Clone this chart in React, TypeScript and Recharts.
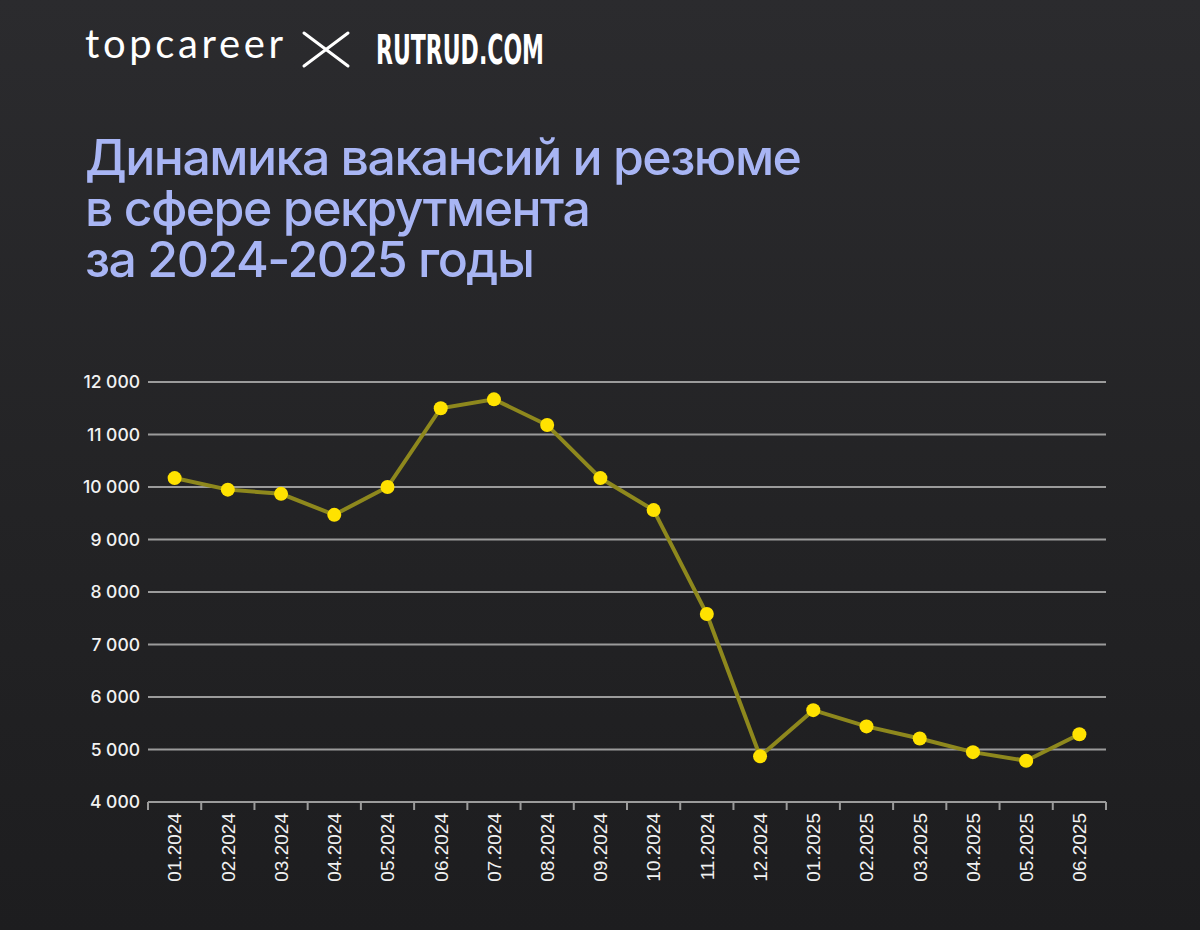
import { LineChart, Line, XAxis, YAxis, CartesianGrid } from 'recharts'

const months = [
  '01.2024', '02.2024', '03.2024', '04.2024', '05.2024', '06.2024',
  '07.2024', '08.2024', '09.2024', '10.2024', '11.2024', '12.2024',
  '01.2025', '02.2025', '03.2025', '04.2025', '05.2025', '06.2025',
]
const vacancies = [
  10170, 9950, 9870, 9470, 10000, 11500,
  11670, 11180, 10170, 9560, 7580, 4870,
  5750, 5440, 5210, 4950, 4785, 5290,
]
const yTicks = [4000, 5000, 6000, 7000, 8000, 9000, 10000, 11000, 12000]
const titleLines = ['Динамика вакансий и резюме', 'в сфере рекрутмента', 'за 2024-2025 годы']

const data = months.map((month, i) => ({ month, value: vacancies[i] }))

const CHART_W = 1200
const CHART_H = 540
const Y_AXIS_W = 148
const RIGHT_PAD = 94
const BAND = (CHART_W - Y_AXIS_W - RIGHT_PAD) / months.length
const GRID = '#9b9b9b'

const fmt = (v: number) => String(v).replace(/\B(?=(\d{3})+(?!\d))/g, ' ')

function MonthTick(props: any) {
  const { x, y, payload, index } = props
  const half = BAND / 2
  const ty = y + 3
  return (
    <g>
      <line x1={x - half} x2={x - half} y1={y - 8} y2={y} stroke={GRID} strokeWidth={2} />
      {index === months.length - 1 && (
        <line x1={x + half} x2={x + half} y1={y - 8} y2={y} stroke={GRID} strokeWidth={2} />
      )}
      <text
        x={x}
        y={ty}
        transform={`rotate(-90, ${x}, ${ty})`}
        textAnchor="end"
        dy="0.36em"
        fill="#f2f2f2"
        fontSize={19}
        fontFamily="'Liberation Sans', Arial, sans-serif"
      >
        {payload.value}
      </text>
    </g>
  )
}

export default function App() {
  return (
    <div
      style={{
        position: 'absolute',
        left: 0,
        top: 0,
        width: 1200,
        height: 930,
        overflow: 'hidden',
        background: 'linear-gradient(180deg, #2b2b2e 0%, #232325 55%, #1d1d1f 100%)',
      }}
    >
      <svg width={1200} height={330} style={{ position: 'absolute', left: 0, top: 0 }}>
        <text
          x={85}
          y={58}
          fill="#ffffff"
          fontSize={40}
          fontWeight={400}
          fontFamily="Lato, sans-serif"
          textLength={198}
          lengthAdjust="spacing"
        >
          topcareer
        </text>
        <line x1={304} y1={33} x2={348} y2={66} stroke="#fff" strokeWidth={3} strokeLinecap="round" />
        <line x1={348} y1={33} x2={304} y2={66} stroke="#fff" strokeWidth={3} strokeLinecap="round" />
        <text
          x={376}
          y={64}
          fill="#ffffff"
          fontSize={40}
          fontWeight={700}
          fontFamily="'Liberation Sans Narrow', 'DejaVu Sans Condensed', sans-serif"
          textLength={168}
          lengthAdjust="spacingAndGlyphs"
        >
          RUTRUD.COM
        </text>
        {titleLines.map((line, i) => (
          <text
            key={line}
            x={85}
            y={175 + i * 51}
            fill="#a8b5f4"
            fontSize={50}
            fontWeight={500}
            letterSpacing={-1.5}
            fontFamily="Inter, sans-serif"
          >
            {line}
          </text>
        ))}
      </svg>
      <div style={{ position: 'absolute', left: 0, top: 360 }}>
        <LineChart
          width={CHART_W}
          height={CHART_H}
          data={data}
          margin={{ top: 22, right: RIGHT_PAD, left: 0, bottom: 8 }}
        >
          <CartesianGrid vertical={false} stroke={GRID} strokeWidth={2} />
          <XAxis
            dataKey="month"
            scale="band"
            interval={0}
            height={90}
            tickLine={false}
            tickSize={8}
            tickMargin={0}
            axisLine={{ stroke: GRID, strokeWidth: 2 }}
            tick={<MonthTick />}
          />
          <YAxis
            width={Y_AXIS_W}
            domain={[4000, 12000]}
            ticks={yTicks}
            interval={0}
            axisLine={false}
            tickLine={false}
            tickMargin={2}
            tickFormatter={fmt}
            tick={{ fill: '#f2f2f2', fontSize: 17.5, fontWeight: 500, fontFamily: 'Inter, sans-serif' }}
          />
          <Line
            type="linear"
            dataKey="value"
            stroke="#8e881d"
            strokeWidth={4}
            dot={{ r: 7, fill: '#ffe200', stroke: 'none', strokeWidth: 0 }}
            activeDot={false}
            isAnimationActive={false}
          />
        </LineChart>
      </div>
    </div>
  )
}
